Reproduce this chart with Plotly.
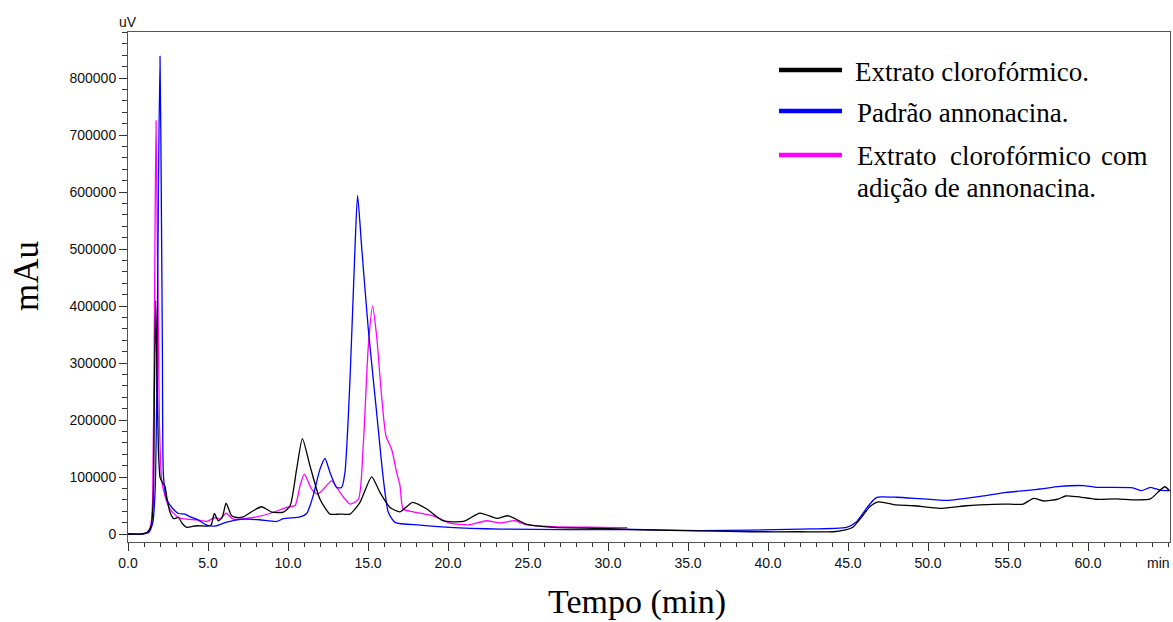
import plotly.graph_objects as go

# ---------------- data ----------------
t_extrato = [0.0, 0.8, 1.2, 1.45, 1.58, 1.65, 1.73, 1.8, 1.9, 2.0, 2.1, 2.2, 2.31, 2.45, 2.63,
             2.85, 3.15, 3.4, 3.67, 4.29, 5.0, 5.2, 5.4, 5.65, 5.9, 6.13, 6.48, 6.8, 7.2, 7.83,
             8.35, 8.98, 9.71, 10.13, 10.54, 10.9, 11.375, 12.0, 12.63, 13.25, 13.875, 14.5,
             15.23, 15.75, 16.375, 17.0, 17.79, 18.67, 19.7, 20.96, 22.0, 23.04, 23.77, 24.92,
             26.58, 29.5, 31.6, 34.7, 38.9, 42.0, 44.1, 44.9, 45.3, 45.75, 46.375, 46.9, 48.0,
             49.1, 50.75, 52.4, 53.25, 54.7, 55.95, 56.6, 57.2, 58.1, 58.6, 59.3, 60.5, 61.75,
             63.0, 63.9, 64.5, 64.8, 65.1]
v_extrato = [0, 0, 3000, 15000, 60000, 250000, 410000, 300000, 150000, 100000, 93000, 88000, 84000,
             60000, 38000, 27000, 29000, 18000, 11700, 14500, 14000, 16000, 36000, 23000, 30000,
             54000, 32000, 29000, 30000, 40800, 47800, 38500, 38500, 49600, 113800, 167500, 119500,
             61000, 35000, 35000, 35000, 55500, 100300, 73000, 46700, 39000, 55500, 44000, 23300,
             22000, 36800, 27400, 32000, 17000, 11700, 10000, 7600, 6000, 4000, 4000, 4000, 7600,
             12000, 26000, 48400, 56500, 51000, 49600, 45000, 49600, 51000, 52600, 52600, 62600,
             58000, 61000, 66700, 65500, 61000, 61500, 59800, 61500, 77000, 82900, 75900]

t_padrao = [0.0, 0.9, 1.3, 1.55, 1.7, 1.8, 1.9, 2.0, 2.08, 2.15, 2.22, 2.42, 2.73, 3.15, 3.56,
            3.9, 4.29, 4.92, 5.44, 6.17, 7.2, 8.2, 9.3, 9.7, 10.75, 11.17, 11.375, 11.6, 12.0,
            12.31, 12.625, 13.04, 13.35, 13.56, 13.875, 14.19, 14.35, 14.6, 15.02, 15.54, 15.96,
            16.27, 16.69, 18.25, 20.1, 21.4, 23.25, 27.4, 31.6, 35.75, 38.9, 42.0, 44.9, 45.5,
            46.2, 46.7, 47.0, 48.0, 49.5, 51.2, 53.25, 54.9, 56.4, 57.0, 58.25, 59.7, 60.5, 62.8,
            63.35, 63.9, 64.5, 65.1]
v_padrao = [0, 0, 3000, 20000, 80000, 250000, 600000, 838000, 600000, 320000, 100000, 61000, 47000,
            36000, 35000, 30000, 26000, 15700, 14000, 21000, 26000, 25000, 22000, 27000, 30000,
            36000, 49600, 70000, 113800, 132500, 108000, 81700, 81700, 108000, 271000, 504700,
            594000, 504700, 359000, 213000, 96300, 38000, 20500, 15700, 11700, 10000, 8750, 7600,
            7900, 6100, 7000, 8750, 11700, 20500, 46700, 62500, 65000, 64500, 62000, 59000, 66000,
            73000, 77000, 79000, 83500, 85000, 82000, 81000, 76000, 82000, 77000, 76000]

t_mistura = [0.0, 0.9, 1.3, 1.45, 1.54, 1.65, 1.75, 1.82, 1.9, 1.96, 2.1, 2.31, 2.625, 3.15, 3.67,
             4.29, 4.92, 5.44, 5.75, 6.125, 6.58, 7.83, 8.875, 9.92, 10.44, 10.75, 11.02, 11.48,
             11.85, 12.31, 12.73, 13.25, 13.875, 14.4, 14.7, 15.02, 15.29, 15.54, 15.85, 16.125,
             16.48, 16.79, 17.0, 17.2, 17.83, 19.08, 20.1, 21.375, 22.4, 23.25, 24.2, 24.9, 26.6,
             29.5, 31.2]
v_mistura = [0, 0, 3000, 20000, 61000, 376000, 725000, 550000, 350000, 201000, 96000, 67000, 43800,
             29000, 26000, 25000, 22000, 29000, 26000, 36700, 26000, 29000, 36000, 46700, 50000,
             84500, 105000, 78800, 70000, 81700, 93300, 73000, 52500, 61000, 154500, 329600, 400000,
             347000, 242000, 172000, 148800, 108000, 85000, 43800, 39000, 32000, 19300, 16300, 23300,
             19300, 23300, 16300, 12800, 11700, 11000]

series_names = ["Extrato clorofórmico.", "Padrão annonacina.",
                "Extrato clorofórmico com adição de annonacina."]
series_colors = ["#000000", "#0000FF", "#FF00FF"]

x_tick_values = [0, 5, 10, 15, 20, 25, 30, 35, 40, 45, 50, 55, 60]
y_tick_values = [0, 100000, 200000, 300000, 400000, 500000, 600000, 700000, 800000]

# ---------------- figure ----------------
W, H = 1173, 622
ML, MR, MT, MB = 128, 3, 32, 80
PW, PH = W - ML - MR, H - MT - MB


def px(xp):
    return (xp - ML) / PW


def py(yp):
    return (H - MB - yp) / PH


fig = go.Figure()
for t, v, name, col in [(t_mistura, v_mistura, series_names[2], series_colors[2]),
                        (t_padrao, v_padrao, series_names[1], series_colors[1]),
                        (t_extrato, v_extrato, series_names[0], series_colors[0])]:
    fig.add_trace(go.Scatter(x=t, y=v, mode="lines", name=name, showlegend=False,
                             line=dict(color=col, width=1.3, shape="spline", smoothing=0.6)))

axis_font = dict(family="Liberation Sans, Arial, sans-serif", size=14, color="#111")
fig.update_layout(
    width=W, height=H,
    margin=dict(l=ML, r=MR, t=MT, b=MB),
    paper_bgcolor="white", plot_bgcolor="white",
    showlegend=False,
    xaxis=dict(range=[0, 65.125], tickvals=x_tick_values,
               ticktext=[f"{v:.1f}" for v in x_tick_values],
               ticks="outside", ticklen=8, tickcolor="#333", tickwidth=1,
               minor=dict(dtick=1, ticklen=4, tickcolor="#333", ticks="outside"),
               showline=True, linecolor="#555", linewidth=1, mirror=True,
               showgrid=False, zeroline=False, tickfont=axis_font),
    yaxis=dict(range=[-14000, 880700], tickvals=y_tick_values,
               ticktext=[str(v) for v in y_tick_values],
               ticks="outside", ticklen=8, tickcolor="#333", tickwidth=1,
               minor=dict(dtick=20000, ticklen=5, tickcolor="#333", ticks="outside"),
               showline=True, linecolor="#555", linewidth=1, mirror=True,
               showgrid=False, zeroline=False, tickfont=axis_font),
)

serif = "Liberation Serif, Times New Roman, serif"
ann = []
ann.append(dict(text="uV", x=0, y=py(22), xref="paper", yref="paper", showarrow=False,
                xanchor="center", yanchor="middle", font=axis_font))
ann.append(dict(text="min", x=px(1158), y=py(563), xref="paper", yref="paper", showarrow=False,
                xanchor="center", yanchor="middle", font=axis_font))
ann.append(dict(text="Tempo (min)", x=px(637), y=py(621.5), xref="paper", yref="paper",
                showarrow=False, xanchor="center", yanchor="bottom", borderpad=0,
                font=dict(family=serif, size=34, color="#000")))
ann.append(dict(text="mAu", x=px(26), y=py(276), xref="paper", yref="paper", textangle=-90,
                showarrow=False, xanchor="center", yanchor="middle",
                font=dict(family=serif, size=35, color="#000")))

leg_font = dict(family=serif, size=27, color="#000")
ann.append(dict(text=series_names[0], x=px(853), y=py(72), xref="paper", yref="paper",
                showarrow=False, xanchor="left", yanchor="middle", font=leg_font))
ann.append(dict(text=series_names[1], x=px(855), y=py(113), xref="paper", yref="paper",
                showarrow=False, xanchor="left", yanchor="middle", font=leg_font))
words3 = series_names[2].split(" ")
ann.append(dict(text=words3[0], x=px(855), y=py(156), xref="paper", yref="paper",
                showarrow=False, xanchor="left", yanchor="middle", font=leg_font))
ann.append(dict(text=words3[1], x=px(948), y=py(156), xref="paper", yref="paper",
                showarrow=False, xanchor="left", yanchor="middle", font=leg_font))
ann.append(dict(text=words3[2], x=px(1150), y=py(156), xref="paper", yref="paper",
                showarrow=False, xanchor="right", yanchor="middle", font=leg_font))
ann.append(dict(text=" ".join(words3[3:]), x=px(855), y=py(188), xref="paper", yref="paper",
                showarrow=False, xanchor="left", yanchor="middle", font=leg_font))
fig.update_layout(annotations=ann)

shapes = []
for yy, col in [(70, series_colors[0]), (111, series_colors[1]), (155, series_colors[2])]:
    shapes.append(dict(type="line", xref="paper", yref="paper", x0=px(779), x1=px(842),
                       y0=py(yy), y1=py(yy), line=dict(color=col, width=4.5)))
fig.update_layout(shapes=shapes)

fig.write_html("out.html")
